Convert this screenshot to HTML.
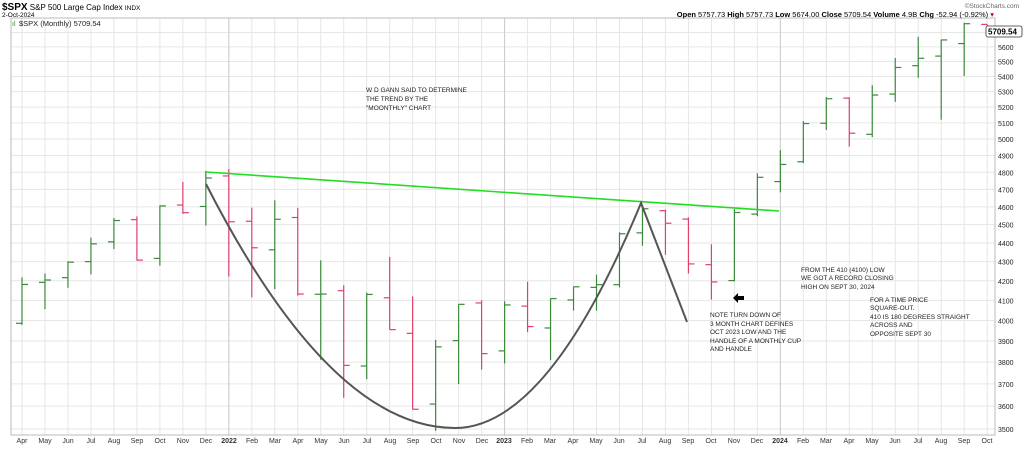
<!DOCTYPE html>
<html><head><meta charset="utf-8"><style>
body{margin:0;background:#fff;width:1024px;height:446px;overflow:hidden;font-family:"Liberation Sans",sans-serif}
svg text{font-family:"Liberation Sans",sans-serif}
</style></head><body>
<svg id="s" width="1024" height="446" xmlns="http://www.w3.org/2000/svg">
<g id="grid"></g>
<rect x="11" y="18" width="984" height="417" fill="none" stroke="#bbb" stroke-width="1"/>
<g id="bars"></g>
<line x1="206" y1="172" x2="779" y2="211" stroke="#22dd22" stroke-width="1.6"/>
<path d="M206,184 Q330.5,428 455,428 Q548,428 641,203 L687,322" fill="none" stroke="#555" stroke-width="2"/>
<path d="M733,298 l5,-5 v3 h6 v4 h-6 v3z" fill="#000"/>
<text x="2" y="10" font-size="8"><tspan font-weight="bold" font-size="10">$SPX</tspan> S&amp;P 500 Large Cap Index <tspan font-size="6.5">INDX</tspan></text>
<text x="2" y="17" font-size="6.5">2-Oct-2024</text>
<text x="12" y="26" font-size="7" fill="#3a8a3a">ıl</text>
<text x="19" y="26" font-size="7.5" font-family="Liberation Mono" fill="#222">$SPX (Monthly) 5709.54</text>
<text x="1019" y="8" font-size="6.5" text-anchor="end" fill="#666">©StockCharts.com</text>
<text x="994" y="17" font-size="7.5" text-anchor="end"><tspan font-weight="bold">Open</tspan> 5757.73 <tspan font-weight="bold">High</tspan> 5757.73 <tspan font-weight="bold">Low</tspan> 5674.00 <tspan font-weight="bold">Close</tspan> 5709.54 <tspan font-weight="bold">Volume</tspan> 4.9B <tspan font-weight="bold">Chg</tspan> -52.94 (-0.92%) <tspan fill="#c03">▾</tspan></text>
<g font-size="7" fill="#222">
<text x="998" y="35.5">5700</text><text x="998" y="49.9">5600</text><text x="998" y="64.5">5500</text><text x="998" y="79.4">5400</text><text x="998" y="94.6">5300</text><text x="998" y="110">5200</text><text x="998" y="125.8">5100</text><text x="998" y="142">5000</text><text x="998" y="158.4">4900</text><text x="998" y="175.3">4800</text><text x="998" y="192.4">4700</text><text x="998" y="209.8">4600</text><text x="998" y="227.7">4500</text><text x="998" y="245.9">4400</text><text x="998" y="264.7">4300</text><text x="998" y="283.8">4200</text><text x="998" y="303.4">4100</text><text x="998" y="323.4">4000</text><text x="998" y="343.9">3900</text><text x="998" y="365">3800</text><text x="998" y="386.8">3700</text><text x="998" y="409.1">3600</text><text x="998" y="432">3500</text>
</g>
<rect x="986" y="26" width="36" height="11" fill="#fff" stroke="#333" stroke-width="0.8" rx="2"/>
<text x="988" y="34.5" font-size="8" font-weight="bold">5709.54</text>
<g font-size="7" fill="#333" text-anchor="middle" id="months">
<text x="22" y="443">Apr</text><text x="45" y="443">May</text><text x="68" y="443">Jun</text><text x="91" y="443">Jul</text><text x="114" y="443">Aug</text><text x="137" y="443">Sep</text><text x="160" y="443">Oct</text><text x="183" y="443">Nov</text><text x="206" y="443">Dec</text><text x="229" y="443" font-weight="bold">2022</text><text x="252" y="443">Feb</text><text x="275" y="443">Mar</text><text x="298" y="443">Apr</text><text x="321" y="443">May</text><text x="344" y="443">Jun</text><text x="367" y="443">Jul</text><text x="390" y="443">Aug</text><text x="413" y="443">Sep</text><text x="436" y="443">Oct</text><text x="459" y="443">Nov</text><text x="482" y="443">Dec</text><text x="504" y="443" font-weight="bold">2023</text><text x="527" y="443">Feb</text><text x="550" y="443">Mar</text><text x="573" y="443">Apr</text><text x="596" y="443">May</text><text x="619" y="443">Jun</text><text x="642" y="443">Jul</text><text x="665" y="443">Aug</text><text x="688" y="443">Sep</text><text x="711" y="443">Oct</text><text x="734" y="443">Nov</text><text x="757" y="443">Dec</text><text x="780" y="443" font-weight="bold">2024</text><text x="803" y="443">Feb</text><text x="826" y="443">Mar</text><text x="849" y="443">Apr</text><text x="872" y="443">May</text><text x="895" y="443">Jun</text><text x="918" y="443">Jul</text><text x="941" y="443">Aug</text><text x="964" y="443">Sep</text><text x="987" y="443">Oct</text>
</g>
<g font-size="6.5" fill="#222">
<text x="366" y="92">W D GANN SAID TO DETERMINE</text><text x="366" y="101">THE TREND BY THE</text><text x="366" y="110">"MOONTHLY" CHART</text>
<text x="710" y="317">NOTE TURN DOWN OF</text><text x="710" y="326">3 MONTH CHART DEFINES</text><text x="710" y="334">OCT 2023 LOW AND THE</text><text x="710" y="343">HANDLE OF A MONTHLY CUP</text><text x="710" y="351">AND HANDLE</text>
<text x="801" y="272">FROM THE 410 (4100) LOW</text><text x="801" y="280">WE GOT A RECORD CLOSING</text><text x="801" y="289">HIGH ON SEPT 30, 2024</text>
<text x="870" y="302">FOR A TIME PRICE</text><text x="870" y="310">SQUARE-OUT.</text><text x="870" y="319">410 IS 180 DEGREES STRAIGHT</text><text x="870" y="327">ACROSS AND</text><text x="870" y="336">OPPOSITE SEPT 30</text>
</g>
</svg>
<script>
var N="http://www.w3.org/2000/svg";
function Y(p){return 429-813*Math.log(p/3500);}
function X(i){return 22+22.98*i;}
function ln(g,x1,y1,x2,y2,c,w){var l=document.createElementNS(N,"line");l.setAttribute("x1",x1);l.setAttribute("y1",y1);l.setAttribute("x2",x2);l.setAttribute("y2",y2);l.setAttribute("stroke",c);l.setAttribute("stroke-width",w||1);g.appendChild(l);}
var g=document.getElementById("grid");
for(var p=3500;p<=5700;p+=100){var y=Y(p);ln(g,11,y,995,y,"#e6e6e6");}
for(var i=0;i<43;i++){ln(g,X(i),18,X(i),435,"#e6e6e6");}
ln(g,X(9),18,X(9),435,"#ccc");ln(g,X(21),18,X(21),435,"#ccc");ln(g,X(33),18,X(33),435,"#ccc");
var d=[[3986,4218,3978,4181],[4192,4238,4056,4204],[4216,4302,4164,4297],[4300,4429,4233,4395],[4406,4537,4367,4523],[4528,4546,4305,4308],[4317,4608,4279,4605],[4610,4743,4560,4567],[4602,4808,4495,4766],[4778,4819,4222,4516],[4519,4595,4115,4374],[4363,4637,4157,4530],[4540,4594,4124,4132],[4131,4307,3811,4132],[4149,4177,3637,3785],[3782,4140,3721,4130],[4113,4325,3955,3955],[3937,4120,3585,3586],[3609,3905,3492,3872],[3902,4080,3699,4080],[4087,4101,3765,3840],[3853,4095,3794,4077],[4071,4195,3943,3970],[3963,4110,3809,4109],[4102,4170,4049,4169],[4166,4231,4048,4180],[4180,4458,4166,4450],[4455,4607,4385,4589],[4578,4584,4336,4508],[4531,4541,4238,4288],[4284,4393,4104,4194],[4201,4587,4197,4568],[4559,4794,4547,4770],[4745,4932,4683,4846],[4862,5112,4854,5096],[5098,5265,5056,5254],[5258,5264,4954,5036],[5029,5342,5012,5278],[5284,5524,5234,5460],[5472,5670,5391,5522],[5537,5651,5120,5648],[5623,5768,5403,5762],[5757,5757,5674,5709]];
var b=document.getElementById("bars");
d.forEach(function(r,i){var x=X(i),c=r[3]>=r[0]?"#3a8a3a":"#e0406a";
ln(b,x,Y(r[1]),x,Y(r[2]),c,1.2);ln(b,x-6,Y(r[0]),x,Y(r[0]),c,1.2);ln(b,x,Y(r[3]),x+6,Y(r[3]),c,1.2);});
</script>
</body></html>
